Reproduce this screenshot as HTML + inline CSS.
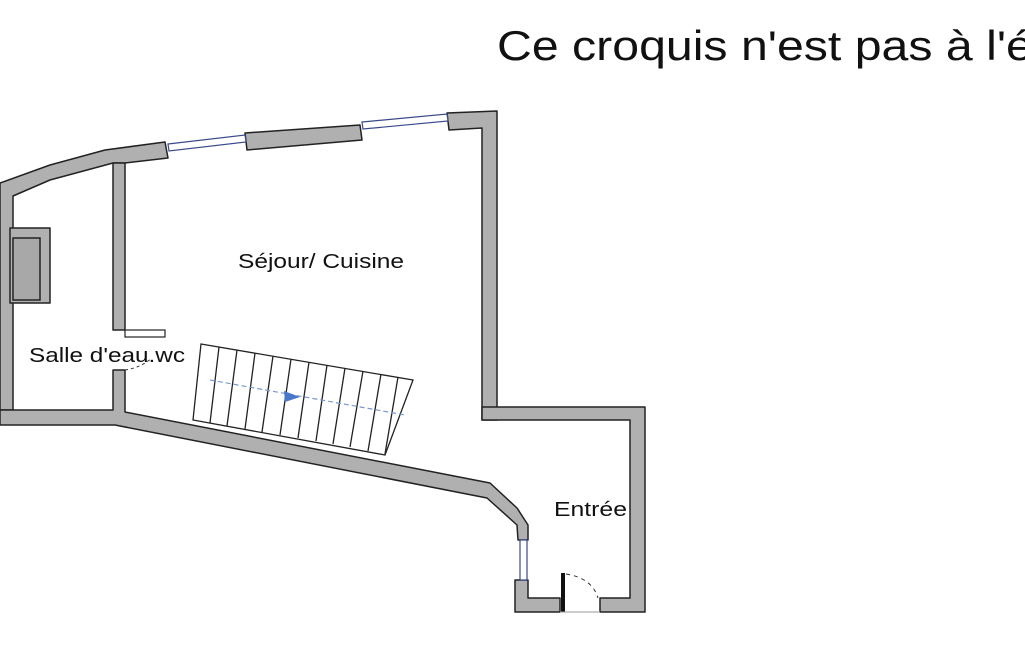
<!DOCTYPE html>
<html><head><meta charset="utf-8"><style>
html,body{margin:0;padding:0;background:#fff;width:1025px;height:650px;overflow:hidden}
svg{display:block}
text{font-family:"Liberation Sans",sans-serif;fill:#111}
</style></head><body>
<svg width="1025" height="650" viewBox="0 0 1025 650">
<text x="497" y="60" font-size="42" textLength="560" lengthAdjust="spacingAndGlyphs">Ce croquis n'est pas à l'éc</text>
<g fill="#b0b0b0" stroke="#222" stroke-width="1.5" stroke-linejoin="round">
<polygon points="0,183 50,165 105,150 165,142 168,158 125,163 113,163 50,180 13,196 13,410 0,410"/>
<polygon points="245,133 360,125 362,140 247,150"/>
<polygon points="447,113 497,111 497,420 482,420 482,128 449,130"/>
<polygon points="482,407 645,407 645,612 600,612 600,598 630,598 630,420 482,420"/>
<polygon points="515,580 528,580 528,598 560,598 560,612 515,612"/>
<polygon points="0,410 113,410 113,370 125,370 125,412 490,483 517,508 528,525 528,540 518,540 517,525 487,498 115,425 0,425"/>
<polygon points="113,163 125,163 125,330 113,330"/>
<polygon points="10,228 50,228 50,303 10,303"/>
</g>
<rect x="13" y="238" width="27" height="62" fill="#a8a8a8" stroke="#222" stroke-width="1.5"/>
<rect x="125" y="330" width="40" height="7" fill="#fff" stroke="#222" stroke-width="1.2"/>
<g stroke="#3a4a8a" stroke-width="1.2" fill="#fff">
<polygon points="168,144 245,135 246,142 169,151"/>
<polygon points="362,122 447,114 448,121 363,129"/>
<rect x="520" y="540" width="7" height="40"/>
</g>
<rect x="561" y="573" width="4" height="39" fill="#111"/>
<path d="M566,574 Q592,578 598,598" fill="none" stroke="#333" stroke-width="1" stroke-dasharray="4,4"/>
<path d="M125,370 Q140,368 152,358" fill="none" stroke="#333" stroke-width="1" stroke-dasharray="3,3"/>
<line x1="560" y1="612" x2="600" y2="612" stroke="#999" stroke-width="1"/>
<g stroke="#222" stroke-width="1.3" fill="none">
<polygon points="201,344 413,380 385,455 193,420"/>
<line x1="219" y1="347" x2="210" y2="423"/>
<line x1="237" y1="350" x2="227" y2="426"/>
<line x1="255" y1="353" x2="245" y2="429"/>
<line x1="273" y1="356" x2="262" y2="432"/>
<line x1="291" y1="359" x2="280" y2="435"/>
<line x1="309" y1="362" x2="298" y2="438"/>
<line x1="327" y1="365" x2="316" y2="441"/>
<line x1="345" y1="368" x2="333" y2="444"/>
<line x1="363" y1="371" x2="350" y2="447"/>
<line x1="381" y1="374" x2="368" y2="451"/>
<line x1="398" y1="377" x2="385" y2="454"/>
</g>
<line x1="210" y1="380" x2="405" y2="415" stroke="#7a9ad0" stroke-width="1.2" stroke-dasharray="5,3"/>
<polygon points="284,391 300,397 285,402" fill="#4a78c8"/>
<text x="238" y="268" font-size="20" textLength="166" lengthAdjust="spacingAndGlyphs">Séjour/ Cuisine</text>
<text x="29" y="362" font-size="20" textLength="156" lengthAdjust="spacingAndGlyphs">Salle d'eau.wc</text>
<text x="554" y="516" font-size="20" textLength="73" lengthAdjust="spacingAndGlyphs">Entrée</text>
</svg>
</body></html>
